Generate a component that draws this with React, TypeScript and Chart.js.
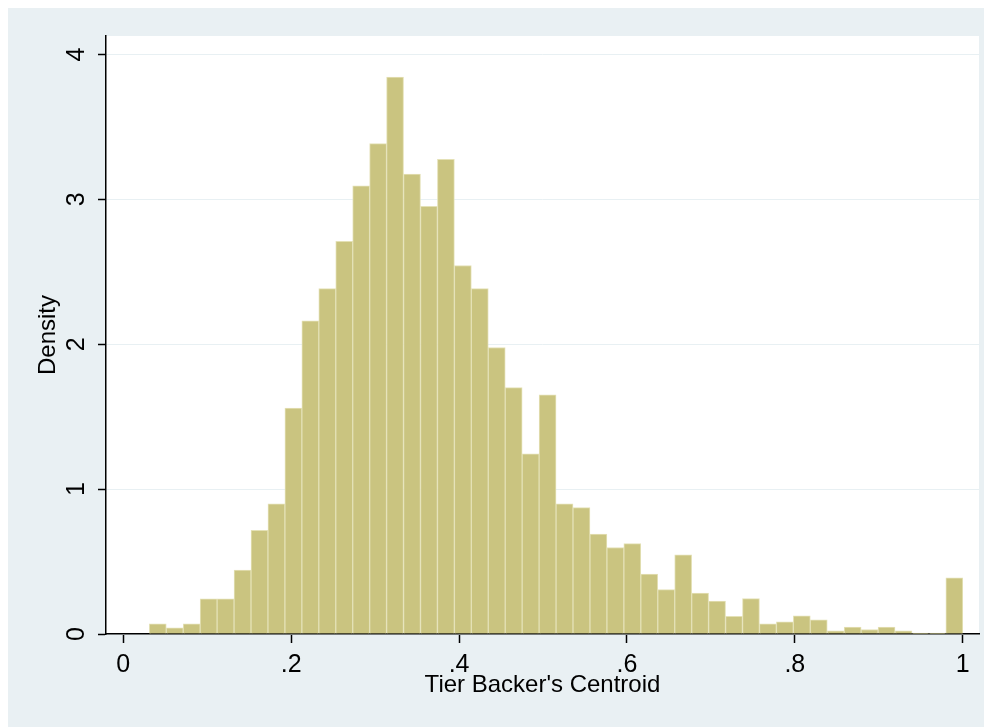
import React, { useEffect, useRef } from "react";
import { Chart, registerables } from "chart.js";

Chart.register(...registerables);

// Histogram bins (Stata-style density histogram)
const binStart = 0.031;
const binWidth = 0.02019;
const densities = [
  0.07, 0.043, 0.07, 0.242, 0.242, 0.441, 0.716, 0.899, 1.559, 2.161,
  2.384, 2.711, 3.094, 3.385, 3.845, 3.174, 2.952, 3.277, 2.544, 2.384,
  1.978, 1.701, 1.243, 1.651, 0.899, 0.872, 0.689, 0.597, 0.624, 0.414,
  0.306, 0.546, 0.283, 0.228, 0.122, 0.244, 0.07, 0.084, 0.125, 0.098,
  0.022, 0.047, 0.031, 0.047, 0.022, 0.006, 0.006, 0.388,
];
const xTicks = [0, 0.2, 0.4, 0.6, 0.8, 1];
const xTickLabels = ["0", ".2", ".4", ".6", ".8", "1"];
const yTicks = [0, 1, 2, 3, 4];
const yTickLabels = ["0", "1", "2", "3", "4"];
const xTitle = "Tier Backer's Centroid";
const yTitle = "Density";

const FONT = "'Liberation Sans', Arial, sans-serif";
const OUTER_BG = "rgb(233,240,243)";

const bgPlugin = {
  id: "stataBg",
  beforeDraw(chart: any) {
    const { ctx, chartArea, width, height } = chart;
    ctx.save();
    ctx.fillStyle = OUTER_BG;
    ctx.fillRect(0, 0, width, height);
    ctx.fillStyle = "#ffffff";
    ctx.fillRect(
      chartArea.left,
      chartArea.top,
      chartArea.right - chartArea.left,
      chartArea.bottom - chartArea.top
    );
    ctx.restore();
  },
};

export default function App() {
  const canvasRef = useRef<HTMLCanvasElement | null>(null);

  useEffect(() => {
    document.body.style.overflow = "hidden";
    const canvas = canvasRef.current;
    if (!canvas) return;
    const data = densities.map((d, i) => ({
      x: binStart + (i + 0.5) * binWidth,
      y: d,
    }));
    const chart = new Chart(canvas, {
      type: "bar",
      data: {
        datasets: [
          {
            data: data as any,
            backgroundColor: "rgb(202,196,128)",
            borderColor: "rgb(228,225,182)",
            borderWidth: 1,
            borderSkipped: "bottom",
            barPercentage: 1,
            categoryPercentage: 1,
          },
        ],
      },
      options: {
        animation: false,
        responsive: false,
        maintainAspectRatio: false,
        layout: { padding: { left: 0, top: 27, right: 13, bottom: 0 } },
        plugins: {
          legend: { display: false },
          tooltip: { enabled: false },
        },
        scales: {
          x: {
            type: "linear",
            position: "bottom",
            min: -0.0206,
            max: 1.0194,
            offset: false,
            grid: {
              offset: false,
              drawOnChartArea: false,
              drawTicks: true,
              tickLength: 9,
              tickColor: "#000",
              tickWidth: 1.5,
            },
            border: { display: true, color: "#000", width: 1.5 },
            ticks: {
              autoSkip: false,
              maxRotation: 0,
              minRotation: 0,
              padding: 7,
              color: "#000",
              font: { family: FONT, size: 25 },
              callback: (v: any) => {
                const idx = xTicks.findIndex((t) => Math.abs(t - Number(v)) < 1e-9);
                return idx >= 0 ? xTickLabels[idx] : "";
              },
            },
            afterBuildTicks: (scale: any) => {
              scale.ticks = xTicks.map((v) => ({ value: v }));
            },
            afterFit: (scale: any) => {
              scale.height = 93;
            },
            title: {
              display: true,
              text: xTitle,
              color: "#000",
              font: { family: FONT, size: 24 },
              padding: { top: 0, bottom: 27.6 },
            },
          },
          y: {
            type: "linear",
            position: "left",
            min: 0,
            max: 4.128,
            grid: {
              color: "rgb(232,240,243)",
              lineWidth: 1,
              drawTicks: true,
              tickLength: 8,
              tickColor: "#000",
              tickWidth: 1.5,
            },
            border: { display: true, color: "#000", width: 1.5 },
            ticks: {
              minRotation: 90,
              maxRotation: 90,
              crossAlign: "center",
              padding: 14,
              color: "#000",
              font: { family: FONT, size: 25 },
              callback: (v: any) => {
                const idx = yTicks.findIndex((t) => Math.abs(t - Number(v)) < 1e-9);
                return idx >= 0 ? yTickLabels[idx] : "";
              },
            },
            afterBuildTicks: (scale: any) => {
              scale.ticks = yTicks.map((v) => ({ value: v }));
            },
            afterFit: (scale: any) => {
              scale.width = 98;
            },
            title: {
              display: true,
              text: yTitle,
              color: "#000",
              font: { family: FONT, size: 24 },
              padding: { top: 25.6, bottom: 0 },
            },
          },
        },
      },
      plugins: [bgPlugin],
    });
    return () => {
      chart.destroy();
    };
  }, []);

  return (
    <div
      style={{
        width: 984,
        height: 720,
        marginTop: -1,
        background: OUTER_BG,
      }}
    >
      <canvas ref={canvasRef} width={984} height={720} style={{ display: "block" }} />
    </div>
  );
}
